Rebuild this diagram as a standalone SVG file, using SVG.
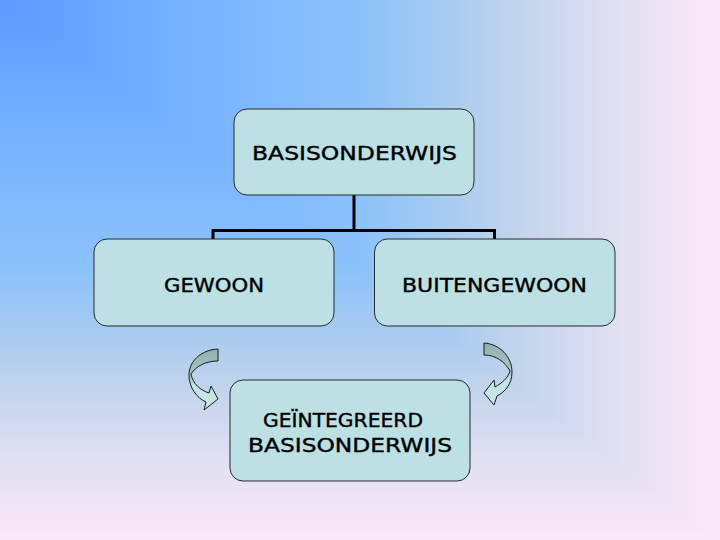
<svg xmlns="http://www.w3.org/2000/svg" width="720" height="540" viewBox="0 0 720 540">
  <defs>
    <linearGradient id="bgH" gradientUnits="userSpaceOnUse" x1="0" y1="0" x2="720" y2="0">
      <stop offset="0" stop-color="#5e9aff"/>
      <stop offset="0.3" stop-color="#7ab6ff"/>
      <stop offset="0.5" stop-color="#8cc2fa"/>
      <stop offset="0.62" stop-color="#a8cbf0"/>
      <stop offset="0.72" stop-color="#c2d4ec"/>
      <stop offset="0.85" stop-color="#e0e0f2"/>
      <stop offset="1" stop-color="#fce8f8"/>
    </linearGradient>
    <linearGradient id="bgV" gradientUnits="userSpaceOnUse" x1="0" y1="0" x2="0" y2="540">
      <stop offset="0" stop-color="#5e9aff"/>
      <stop offset="0.3" stop-color="#7ab6ff"/>
      <stop offset="0.5" stop-color="#8cc2fa"/>
      <stop offset="0.62" stop-color="#a8cbf0"/>
      <stop offset="0.72" stop-color="#c2d4ec"/>
      <stop offset="0.85" stop-color="#e0e0f2"/>
      <stop offset="1" stop-color="#fce8f8"/>
    </linearGradient>
    <linearGradient id="arrowL" x1="0" y1="0" x2="0" y2="1">
      <stop offset="0" stop-color="#94b0b0"/>
      <stop offset="0.45" stop-color="#a8c4c4"/>
      <stop offset="0.6" stop-color="#c4e4e4"/>
      <stop offset="1" stop-color="#c8e8e8"/>
    </linearGradient>
    <style>
      .box { fill: #bce0e4; stroke: #2a2a2a; stroke-width: 1; }
      .lbl { font-family: "DejaVu Sans", "Liberation Sans", sans-serif; font-size: 20px; fill: #000; stroke: #000; stroke-width: 0.4; }
      .conn { fill: none; stroke: #000; stroke-width: 3; }
      .arr { fill: url(#arrowL); stroke: #1a1a1a; stroke-width: 1; }
    </style>
  </defs>

  <rect x="0" y="0" width="720" height="540" fill="url(#bgV)"/>
  <polygon points="0,0 720,0 720,540" fill="url(#bgH)"/>

  <g id="connectors">
    <path class="conn" d="M354,195 V230.5 M213,239 V230.5 H494.5 V239"/>
    <path id="arrow-left" class="arr" d="M218,349 C200,350 189,362 189,375 C189,388 197,398 206,402 L204,410 L218,399 L211,386 L209,393 C200,390 193,384 191,374 C196,366 206,361 218,361 Z"/>
    <path id="arrow-right" class="arr" d="M484,343 C500,344 512,357 512,372 C512,384 505,392 497,396 L494,405 L484,393 L494,380 L495,387 C502,383 508,378 510,371 C505,362 496,355 484,355 Z"/>
  </g>

  <g id="node-basisonderwijs">
    <rect class="box" x="234" y="109" width="240" height="86" rx="13"/>
    <text class="lbl" x="252" y="160" textLength="205" lengthAdjust="spacingAndGlyphs">BASISONDERWIJS</text>
  </g>
  <g id="node-gewoon">
    <rect class="box" x="94" y="239" width="240" height="87" rx="13"/>
    <text class="lbl" x="164" y="292" textLength="100" lengthAdjust="spacingAndGlyphs">GEWOON</text>
  </g>
  <g id="node-buitengewoon">
    <rect class="box" x="374.5" y="239" width="240.5" height="87" rx="13"/>
    <text class="lbl" x="402" y="292" textLength="185" lengthAdjust="spacingAndGlyphs">BUITENGEWOON</text>
  </g>
  <g id="node-geintegreerd">
    <rect class="box" x="230" y="380" width="240" height="101" rx="13"/>
    <text class="lbl" x="263" y="427" textLength="160" lengthAdjust="spacingAndGlyphs">GEÏNTEGREERD</text>
    <text class="lbl" x="248" y="452" textLength="204" lengthAdjust="spacingAndGlyphs">BASISONDERWIJS</text>
  </g>
</svg>
